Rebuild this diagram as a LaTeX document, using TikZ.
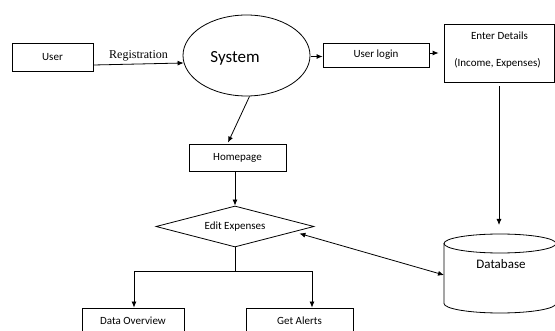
\documentclass[tikz,border=0pt]{standalone}
\usepackage{fontspec}
\setmainfont{Carlito}
\newfontfamily\regfont{Liberation Serif}
\usetikzlibrary{shapes.geometric,arrows.meta,calc}
\begin{document}
\begin{tikzpicture}[x=1pt,y=-1pt,
  line width=0.8pt,
  every node/.style={font=\fontsize{11}{13}\selectfont, inner sep=0pt},
  box/.style={draw, rectangle},
  arr/.style={-{Latex[length=6pt,width=5pt]}},
  darr/.style={{Latex[length=6pt,width=5pt]}-{Latex[length=6pt,width=5pt]}},
]
\useasboundingbox (0,0) rectangle (555,331);
\clip (0,0) rectangle (555,331);
\fill[white] (0,0) rectangle (555,331);

% nodes
\node[box, minimum width=81, minimum height=28] (user) at (52.5,57) {User};
\node[draw, ellipse, minimum width=127, minimum height=81] (sys) at (246.5,55.5) {};
\node[font=\fontsize{17}{20}\selectfont] (systxt) at (235,58) {System};
\node[box, minimum width=106, minimum height=24] (login) at (376,55) {User login};
\node[box, minimum width=110, minimum height=58] (details) at (499,53) {};
\node (dt1) at (499.5,36) {Enter Details};
\node (dt2) at (497.5,63) {(Income, Expenses)};
\node[box, minimum width=97, minimum height=27] (home) at (237.5,157.5) {Homepage};
\node[draw, diamond, aspect=3.85, minimum width=158, minimum height=41] (edit) at (235,226.5) {Edit Expenses};
\node[box, minimum width=102, minimum height=26] (dov) at (133,321) {Data Overview};
\node[box, minimum width=107, minimum height=26] (ga) at (299.5,321) {Get Alerts};

% database cylinder
\coordinate (db) at (500,243.5);
\draw (db) ellipse [x radius=56, y radius=9.5];
\draw (444,243.5) -- (444,303.5) .. controls (444,308.75) and (469.1,313) .. (500,313)
      .. controls (530.9,313) and (556,308.75) .. (556,303.5) -- (556,243.5);
\node[font=\fontsize{13}{15}\selectfont] (dbtxt) at (501,264) {Database};
\coordinate (dbtop) at (499,234);
\coordinate (dbl) at (444,275);

% connectors
\draw[arr] ($(user.east)+(0,8)$) -- ($(sys.west)+(1,7.5)$)
  node[midway, above=3pt, font=\regfont\fontsize{12}{14}\selectfont] {Registration};
\draw[arr] ($(sys.east)+(1,1)$) -- ($(login.west)+(0,1.5)$);
\draw[arr, shorten >=5pt] ($(login.east)+(0,-2)$) -- ($(details.west |- login.east)+(0,-2)$);
\draw[arr] ($(sys.south)+(3,0)$) -- ($(home.north)+(-9.5,-1)$);
\draw[arr] (home.south -| edit.north) -- (edit.north);
\draw (edit.south) -- ++(0,24) coordinate (br);
\draw[arr] (br) -| ($(dov.north)+(1,0)$);
\draw[arr] (br) -| ($(ga.north)+(12.5,0)$);
\draw[arr, shorten <=4pt, shorten >=9pt] (details.south) -- (details.south |- dbtop);
\draw[darr] ($(edit.east)+(-15,7)$) -- (dbl);
\end{tikzpicture}
\end{document}
